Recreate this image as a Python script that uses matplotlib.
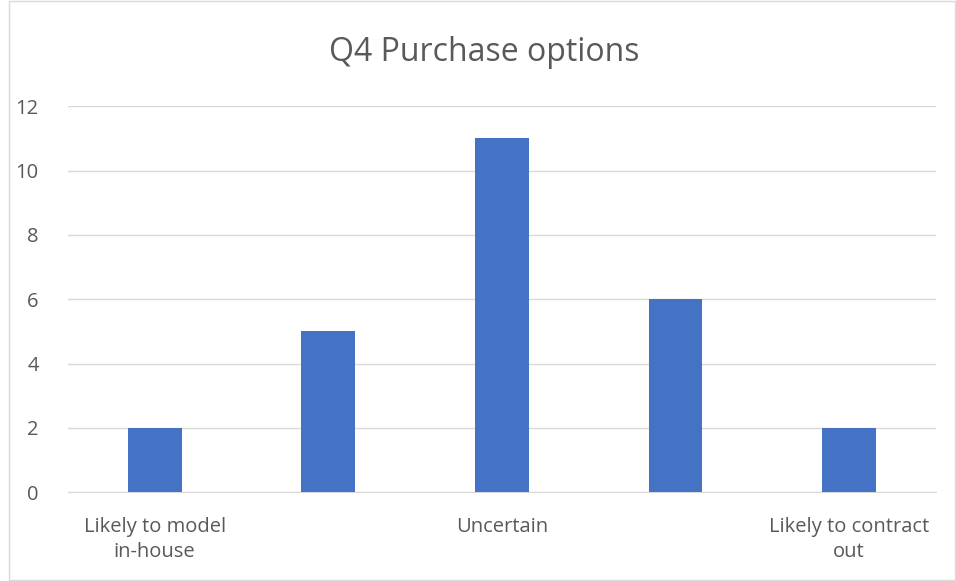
import matplotlib.pyplot as plt
from matplotlib.patches import Rectangle

categories = ["Likely to model\nin-house", "", "Uncertain", "", "Likely to contract\nout"]
counts = [2, 5, 11, 6, 2]

plt.rcParams["font.family"] = ["Open Sans", "DejaVu Sans"]

fig = plt.figure(figsize=(9.56, 5.81), dpi=100)
ax = fig.add_axes([0.071, 0.153, 0.908, 0.664])

x = list(range(len(categories)))
ax.bar(x, counts, width=0.31, color="#4472C4", zorder=3)

ax.set_xlim(-0.5, len(categories) - 0.5)
ax.set_ylim(0, 12)
ax.set_yticks(range(0, 13, 2))
ax.set_xticks(x)
ax.set_xticklabels(categories, color="#595959", fontsize=14.5, linespacing=1.35)
ax.tick_params(axis="y", colors="#595959", labelsize=14.5, length=0, pad=21)
ax.tick_params(axis="x", length=0, pad=18)
ax.grid(axis="y", color="#D9D9D9", linewidth=1, zorder=0)
for side in ["top", "right", "left"]:
    ax.spines[side].set_visible(False)
ax.spines["bottom"].set_color("#D9D9D9")

fig.text(0.507, 0.91, "Q4 Purchase options", ha="center", va="center",
         fontsize=23, color="#595959")

# chart border
fig.patches.append(Rectangle((0.009, 0.001), 0.99, 0.997, transform=fig.transFigure,
                             fill=False, edgecolor="#D9D9D9", linewidth=1))

fig.savefig("out.png", dpi=100)
